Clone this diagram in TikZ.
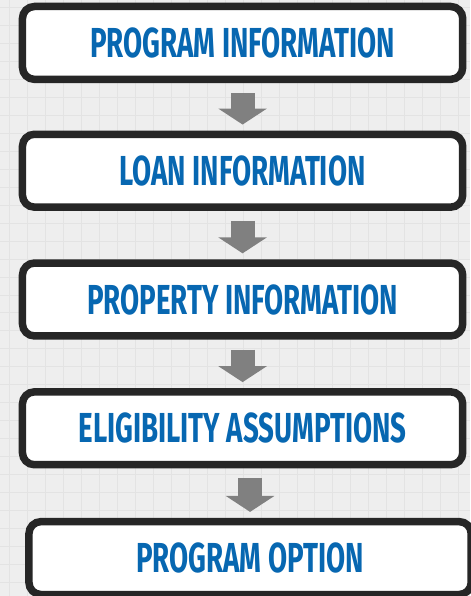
\documentclass[tikz,border=0pt]{standalone}
\usepackage{fontspec}
\setmainfont[FakeStretch=0.66]{Fira Sans}
\usetikzlibrary{arrows.meta, calc}
\definecolor{boxblue}{HTML}{0767B1}
\definecolor{boxedge}{HTML}{262626}
\definecolor{arrowgray}{HTML}{808080}
\definecolor{paper}{HTML}{EEEEEE}
\definecolor{gridgray}{HTML}{E3E3E3}
\begin{document}
\begin{tikzpicture}[x=1pt, y=-1pt,
    infobox/.style={draw=boxedge, fill=white, line width=7.5pt, rounded corners=12pt,
        minimum width=441pt, minimum height=73pt, inner sep=0pt, text=boxblue,
        font=\fontsize{42}{42}\selectfont\bfseries},
    flowarrow/.style={draw=arrowgray, line width=24pt,
        -{Triangle[width=48pt, length=16pt]}, shorten <=10pt, shorten >=6pt}]
    % background with grid
    \fill[paper] (0,0) rectangle (470,596);
    \foreach \x in {9,27,...,470} \draw[gridgray, line width=1pt] (\x,0) -- (\x,596);
    \foreach \y in {7,25,...,596} \draw[gridgray, line width=1pt] (0,\y) -- (470,\y);
    \useasboundingbox (0,0) rectangle (470,596);
    % steps
    \node[infobox] (program) at (242.5,42.5) {PROGRAM INFORMATION};
    \node[infobox] (loan) at (242.5,170.5) {LOAN INFORMATION};
    \node[infobox] (property) at (242.5,299.5) {PROPERTY INFORMATION};
    \node[infobox] (eligibility) at (242.5,428.5) {ELIGIBILITY ASSUMPTIONS};
    \node[infobox, minimum width=443pt] (option) at (250,558.5) {PROGRAM OPTION};
    % arrows between steps
    \draw[flowarrow] (program) -- (loan);
    \draw[flowarrow] (loan) -- (property);
    \draw[flowarrow] (property) -- (eligibility);
    \draw[flowarrow] (eligibility.south -| option.north) -- (option.north);
\end{tikzpicture}
\end{document}
